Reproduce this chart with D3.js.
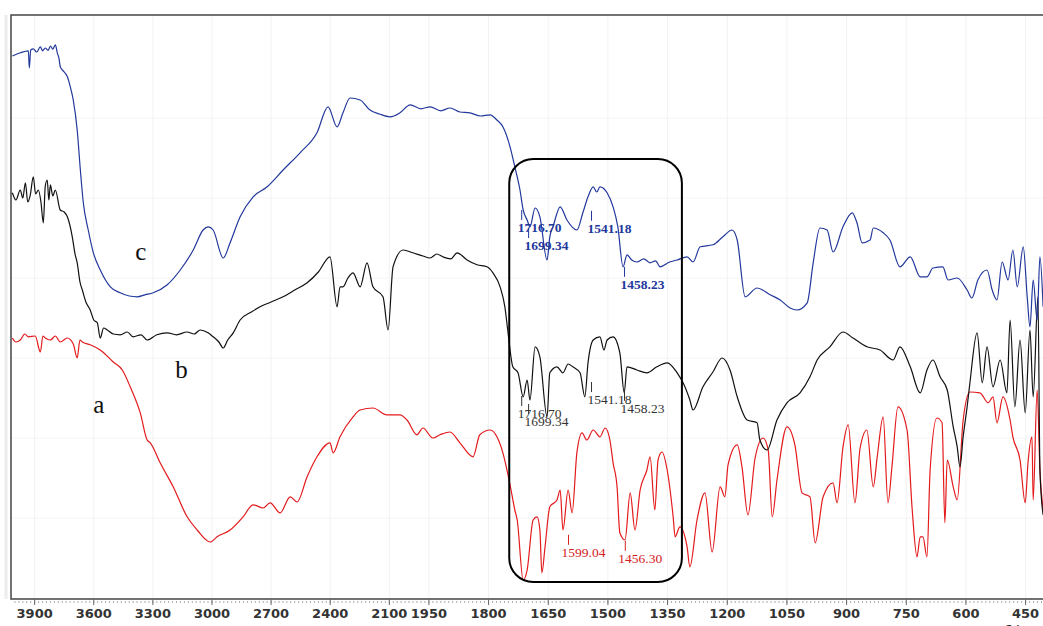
<!DOCTYPE html>
<html>
  <head>
    <title>FTIR</title>
    <script src="https://cdn.jsdelivr.net/npm/d3@7"></script>
    <style>
      body { margin: 0; background: #fff; }
    </style>
  </head>
  <body>
    <svg width="1043" height="626" id="mainsvg"></svg>
    <script>
    // wavenumber (1/cm) , transmittance (a.u., curves stacked)
    const specC = [
      [4013,135.5],[3973,136.3],[3932,136.8],[3927,132.5],[3920,137],[3907,137.3],[3890,136.5],[3871,137.8],[3860,136.8],[3846,137.5],
      [3832,136.9],[3820,138],[3808,137.2],[3795,138.3],[3785,136.3],[3776,134.8],[3770,132.8],[3750,131.5],[3734,130.3],[3719,127.8],
      [3704,124.5],[3684,117],[3668,107],[3653,98.8],[3628,92],[3602,86.3],[3567,82],[3516,77.8],[3466,76.3],[3420,75.5],
      [3379,75.3],[3340,75.8],[3298,76.3],[3227,78.3],[3161,82],[3095,87],[3045,92],[3019,92.8],[2994,92],[2943,85],
      [2908,88.8],[2857,95.3],[2791,100.3],[2720,102.8],[2639,107],[2553,111.3],[2467,116.3],[2411,122.8],[2365,117.8],[2335,121.3],
      [2299,125],[2248,124.5],[2198,122],[2150,121],[2096,120.3],[2046,121.3],[1997,123.3],[1970,122.3],[1947,122.8],[1920,121.8],
      [1897,122.5],[1872,121.5],[1847,121.3],[1820,120.5],[1796,120.8],[1779,119.5],[1764,117.8],[1746,112.8],[1734,107.8],[1721,102],
      [1713,97],[1703,94.5],[1696,92.8],[1683,97.5],[1671,95.3],[1653,84.5],[1646,90.3],[1638,92.8],[1620,97.8],[1603,94.5],
      [1578,92],[1563,96.3],[1550,100.3],[1537,102.8],[1528,101.5],[1520,102.8],[1502,101.3],[1487,97.8],[1475,92.8],[1462,82.8],
      [1452,85.8],[1440,84.5],[1427,84],[1410,84.8],[1394,83.8],[1380,84.3],[1369,82.8],[1345,84],[1326,84.5],[1301,85.3],
      [1286,84],[1268,87.8],[1236,88.3],[1211,90.3],[1188,92],[1175,89.5],[1155,75.3],[1125,77.5],[1092,75.8],[1067,74.5],
      [1042,72.5],[1025,72],[999,73.8],[984,83.8],[967,92.5],[949,92],[934,86.5],[909,92.8],[886,96.3],[874,93.8],
      [861,88.8],[841,89.5],[833,92.5],[808,91.3],[791,89.5],[766,82.8],[740,85.3],[715,80.3],[698,80.3],[683,82.5],
      [658,82.8],[645,79.5],[622,80],[597,77],[585,75],[570,79.5],[547,82],[534,77],[522,74.5],[509,84],
      [494,79.5],[482,87],[471,77.8],[456,87.8],[446,75.3],[439,67.8],[431,79.5],[421,69.5],[414,85.3],[406,72.8]
    ];
    const specB = [
      [4013,101.3],[3995,99.5],[3973,102],[3960,100],[3947,103.8],[3935,99],[3922,100.8],[3907,105.3],[3895,101],[3881,102],
      [3868,99],[3856,93.8],[3846,103],[3836,104.5],[3828,99.5],[3820,103.3],[3808,100.5],[3795,102],[3770,97],[3750,96.5],
      [3734,95.3],[3709,90.3],[3695,86],[3684,83.8],[3670,79],[3658,77],[3640,74],[3618,72],[3600,69.5],[3582,68.8],
      [3567,65],[3550,67.5],[3531,67],[3500,66],[3466,65.8],[3430,66.5],[3400,65.3],[3360,65.8],[3329,64.5],[3280,65.8],
      [3227,66.3],[3180,65.8],[3126,66.5],[3090,66],[3060,67],[3020,66.3],[2994,65.3],[2965,64],[2943,62.5],[2920,64.5],
      [2892,66.3],[2857,69.5],[2800,71.5],[2756,72.8],[2700,74],[2639,75.3],[2580,77],[2517,78.8],[2460,81.5],[2401,85.3],
      [2365,72.8],[2350,77.8],[2335,77.8],[2310,80],[2284,81.3],[2248,77.8],[2213,83.8],[2183,77.8],[2132,75.3],[2106,67],
      [2081,82.8],[2030,87],[1990,86.3],[1965,85.5],[1947,85],[1930,86],[1915,85.3],[1895,84.8],[1879,86.3],[1854,84.5],
      [1829,83.3],[1804,82.8],[1789,81.3],[1771,77.8],[1759,72.8],[1751,66.3],[1739,57.8],[1726,56.3],[1713,50.3],[1703,54.5],
      [1696,49.5],[1683,62.8],[1671,60.3],[1653,45.3],[1646,56.3],[1628,57.8],[1613,56.3],[1600,58.5],[1588,57.8],[1570,56.3],
      [1558,50.3],[1550,58.8],[1537,64.5],[1520,65.3],[1510,62],[1502,64.5],[1487,65.3],[1470,61.3],[1459,51.3],[1452,57.8],
      [1427,57],[1402,56.3],[1377,57.8],[1351,58.8],[1326,56.3],[1311,53.8],[1294,49.5],[1286,47],[1261,52.8],[1236,56.5],
      [1213,60],[1193,57],[1175,50.3],[1150,44.5],[1125,43.8],[1118,39.5],[1100,37],[1075,44.5],[1050,48.8],[1017,51.3],
      [992,55.3],[974,59.5],[942,62.8],[909,66.5],[884,65],[849,62.8],[816,62],[783,59.5],[766,62.8],[740,57.8],
      [715,51.3],[698,57],[683,59.5],[665,55.3],[647,52],[632,42.8],[622,37.8],[615,32.8],[607,40.3],[597,47.8],
      [590,53.8],[572,66.3],[559,53.8],[547,62.8],[532,52.8],[514,59.5],[497,51.3],[489,69.5],[477,47.8],[464,64.5],
      [451,46.3],[439,67],[431,50.3],[419,75.3],[414,32],[406,20.8]
    ];
    const specA = [
      [4013,65],[3995,64],[3973,64.5],[3950,66],[3932,65.3],[3897,65.5],[3871,61.5],[3858,65.5],[3846,65],[3820,64.5],
      [3795,65.5],[3770,64],[3734,65],[3704,63.5],[3684,60],[3670,64.5],[3658,64],[3618,63.3],[3567,62],[3501,59],
      [3455,57],[3415,52.8],[3364,46.3],[3329,39.5],[3313,38.8],[3263,33.8],[3197,27.8],[3126,20.3],[3075,17],[3009,14],
      [2974,15.3],[2908,17],[2842,20.3],[2791,23.3],[2740,22.5],[2705,23.8],[2654,21.3],[2603,25.3],[2568,24],[2517,30.3],
      [2467,35.3],[2401,38.8],[2385,36.3],[2350,40.3],[2284,45.3],[2248,47],[2183,47.5],[2112,45.8],[2046,45.8],[2010,44.5],
      [1980,40.8],[1965,42.5],[1940,40],[1922,40.8],[1897,41.5],[1872,38.8],[1839,35.3],[1822,40.8],[1796,42],[1779,40.3],
      [1764,36.3],[1746,28.3],[1734,22],[1728,19.5],[1713,4.5],[1703,7],[1688,19.5],[1678,20.3],[1671,17],[1666,6.3],
      [1658,12.8],[1646,22.8],[1628,24.5],[1620,27],[1613,17],[1600,27],[1590,21.3],[1578,36.3],[1565,41.3],[1553,39.5],
      [1537,42],[1520,40.3],[1507,42.5],[1495,39.5],[1487,33.8],[1477,27.8],[1470,16.3],[1457,14.5],[1444,26.3],[1432,17],
      [1419,27],[1402,32],[1394,35.3],[1382,22],[1374,34.5],[1364,36.5],[1351,32],[1336,20.3],[1331,15.3],[1319,17.8],
      [1301,12.8],[1294,7.8],[1276,19.5],[1256,26.3],[1238,11.5],[1218,27.8],[1206,25.3],[1198,33.3],[1175,38.3],[1163,32.8],
      [1148,20.8],[1130,35],[1110,40],[1097,37],[1087,20.3],[1075,29.5],[1050,42.8],[1030,38.3],[1012,26.3],[992,25.3],
      [979,13.8],[959,25.3],[934,28.8],[924,23.8],[909,37.8],[896,43.3],[879,23.8],[866,37.5],[849,42],[833,27.8],
      [823,35.3],[808,45.3],[796,23.8],[786,32.8],[771,47.8],[748,42],[735,22],[723,10.3],[715,15.3],[708,15.3],
      [698,10.3],[690,32],[673,45],[660,43.8],[653,18.8],[647,34.5],[632,27.8],[622,24.5],[607,44.5],[590,51.5],
      [565,51.3],[544,48.8],[532,50.3],[522,43.8],[507,50.3],[489,44.5],[482,40.3],[464,34.5],[451,23.8],[444,33.8],
      [434,40.3],[431,24.5],[421,52],[414,32],[406,22]
    ];

    // peak annotations: wavenumber, height of the label
    const peaksC = [[1716.70, 91.5], [1699.34, 87], [1541.18, 91.3], [1458.23, 77.3]];
    const peaksB = [[1716.70, 45], [1699.34, 43], [1541.18, 48.5], [1458.23, 46.3]];
    const peaksA = [[1599.04, 10.3], [1456.30, 8.8]];

    // curve names
    const curveNames = [['c', 3389, 84.5], ['b', 3187, 55], ['a', 3602, 46.3]];

    const xTicks = [3900, 3600, 3300, 3000, 2700, 2400, 2100, 1950, 1800, 1650, 1500, 1350, 1200, 1050, 900, 750, 600, 450];

    const svg = d3.select('#mainsvg');
    const pLeft = 11, pTop = 15, pRight = 1043, pBottom = 599;

    // spectrometer axis: 4000-2000 compressed by half
    const x = d3.scaleLinear().domain([4020, 2000, 400]).range([pLeft, 409, 1045.5]);
    const y = d3.scaleLinear().domain([0, 146]).range([598, 14]);

    svg.append('defs').append('clipPath').attr('id', 'plotclip')
      .append('rect').attr('x', pLeft).attr('y', pTop).attr('width', pRight - pLeft).attr('height', pBottom - pTop);

    // faint grid
    const grid = svg.append('g');
    grid.selectAll('line.v').data(xTicks).join('line')
      .attr('x1', d => x(d)).attr('x2', d => x(d))
      .attr('y1', pTop).attr('y2', pBottom)
      .attr('stroke', '#f2f2f2').attr('stroke-width', 1);
    grid.selectAll('line.h').data([20, 40, 60, 80, 100, 120]).join('line')
      .attr('x1', pLeft).attr('x2', pRight)
      .attr('y1', d => y(d)).attr('y2', d => y(d))
      .attr('stroke', '#f4f4f4').attr('stroke-width', 1);

    // light strip left of frame
    svg.append('line').attr('x1', 6).attr('x2', 6).attr('y1', pTop).attr('y2', pBottom)
      .attr('stroke', '#ececec').attr('stroke-width', 3);

    // frame
    svg.append('path')
      .attr('d', `M${pRight},${pTop}H${pLeft}V${pBottom}H${pRight}`)
      .attr('fill', 'none').attr('stroke', '#444').attr('stroke-width', 1.5);

    // ticks
    const minor = d3.range(4000, 2000, -20).concat(d3.range(2000, 400, -10));
    svg.selectAll('line.minor').data(minor).join('line')
      .attr('x1', d => x(d)).attr('x2', d => x(d))
      .attr('y1', pBottom + 2).attr('y2', pBottom + 4)
      .attr('stroke', '#999').attr('stroke-width', 0.8);
    svg.selectAll('line.major').data(xTicks).join('line')
      .attr('x1', d => x(d)).attr('x2', d => x(d))
      .attr('y1', pBottom + 1).attr('y2', pBottom + 6)
      .attr('stroke', '#666').attr('stroke-width', 1);
    svg.selectAll('text.tick').data(xTicks).join('text')
      .attr('x', d => x(d)).attr('y', 618)
      .attr('text-anchor', 'middle')
      .attr('font-family', 'DejaVu Sans, Verdana, sans-serif')
      .attr('font-weight', 'bold').attr('font-size', 13)
      .attr('fill', '#333')
      .text(d => d);
    svg.append('text').attr('x', 1005).attr('y', 634)
      .attr('font-family', 'DejaVu Sans, Verdana, sans-serif')
      .attr('font-weight', 'bold').attr('font-size', 13).attr('fill', '#333')
      .text('1/cm');

    // spectra
    const line = d3.line().x(d => x(d[0])).y(d => y(d[1])).curve(d3.curveMonotoneX);
    const plot = svg.append('g').attr('clip-path', 'url(#plotclip)');
    const series = [
      { data: specA, color: '#e41a1c' },
      { data: specB, color: '#111111' },
      { data: specC, color: '#22389c' }
    ];
    plot.selectAll('path.spec').data(series).join('path')
      .attr('d', d => line(d.data))
      .attr('fill', 'none')
      .attr('stroke', d => d.color)
      .attr('stroke-width', 1.2)
      .attr('stroke-linejoin', 'round');

    // highlight box
    svg.append('rect')
      .attr('x', x(1748)).attr('y', 159)
      .attr('width', x(1314) - x(1748)).attr('height', 423)
      .attr('rx', 24).attr('ry', 24)
      .attr('fill', 'none').attr('stroke', '#000').attr('stroke-width', 2);

    // peak labels
    function peakLabels(peaks, color, weight, dx) {
      const g = svg.append('g');
      g.selectAll('line').data(peaks).join('line')
        .attr('x1', d => x(d[0])).attr('x2', d => x(d[0]))
        .attr('y1', d => y(d[1]) - 12).attr('y2', d => y(d[1]) - 22)
        .attr('stroke', color).attr('stroke-width', 1);
      g.selectAll('text').data(peaks).join('text')
        .attr('x', d => x(d[0]) + dx).attr('y', d => y(d[1]))
        .attr('font-family', 'Liberation Serif, Times New Roman, serif')
        .attr('font-size', 13.5).attr('font-weight', weight)
        .attr('fill', color)
        .text(d => d[0].toFixed(2));
    }
    peakLabels(peaksC, '#22389c', 'bold', -4);
    peakLabels(peaksB, '#333', 'normal', -4);
    peakLabels(peaksA, '#d42020', 'normal', -7);

    // curve names
    svg.selectAll('text.name').data(curveNames).join('text')
      .attr('x', d => x(d[1])).attr('y', d => y(d[2]))
      .attr('font-family', 'Liberation Serif, Times New Roman, serif')
      .attr('font-size', 25).attr('fill', '#111')
      .text(d => d[0]);
    </script>
  </body>
</html>
